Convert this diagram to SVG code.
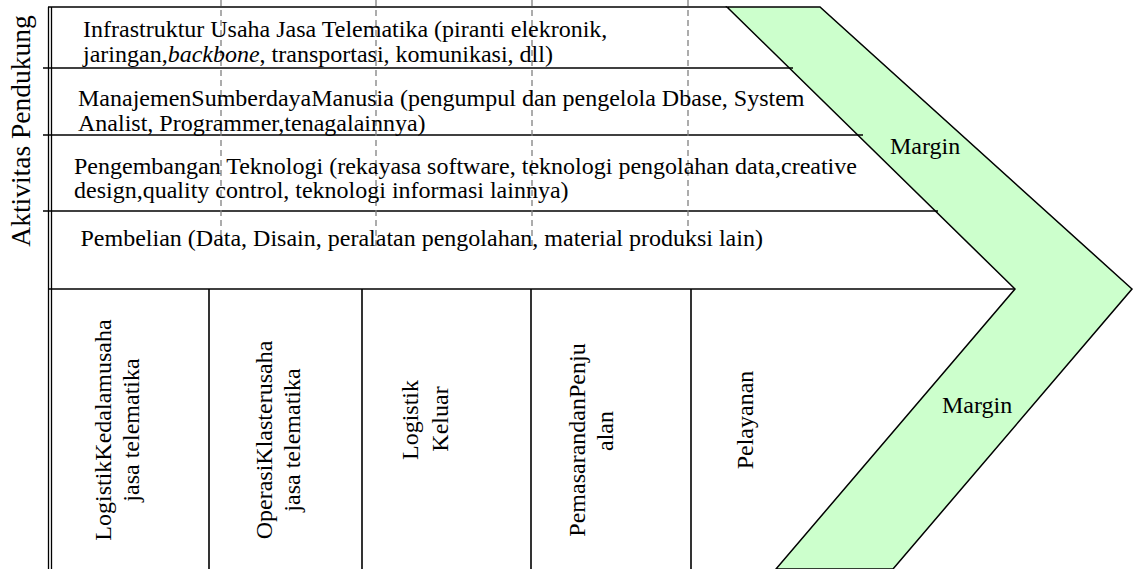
<svg xmlns="http://www.w3.org/2000/svg" width="1134" height="569" viewBox="0 0 1134 569" font-family="'Liberation Serif', 'Times New Roman', Times, serif" font-size="24">
<style>
text{font-family:'Liberation Serif','Times New Roman',Times,serif;font-size:24px;fill:#000}
.ln{stroke:#000;stroke-width:1.6;fill:none}
.dl{stroke:#808080;stroke-width:1.3;stroke-dasharray:6 4;fill:none}
.vt{text-anchor:middle}
</style>
<rect width="1134" height="569" fill="#fff"/>
<g id="margin-chevron">
<polygon points="727,7 820,7 1132,289 893,569 776,569 1015,289" fill="#ccffcc" stroke="#000" stroke-width="1.5" stroke-linejoin="miter"/>
<text x="890" y="154">Margin</text>
<text x="942" y="413">Margin</text>
</g>
<g id="frame">
<line class="ln" x1="48" y1="7" x2="727" y2="7"/>
<line stroke="#000" stroke-width="1.3" x1="48.5" y1="7" x2="48.5" y2="569"/>
<line stroke="#000" stroke-width="1.3" x1="51.5" y1="7" x2="51.5" y2="569"/>
<line class="ln" x1="43" y1="68" x2="793" y2="68"/>
<line class="ln" x1="43" y1="135" x2="863" y2="135"/>
<line class="ln" x1="43" y1="211" x2="938" y2="211"/>
<line class="ln" x1="48" y1="289" x2="1015" y2="289"/>
<line class="ln" x1="209" y1="289" x2="209" y2="569"/>
<line class="ln" x1="362" y1="289" x2="362" y2="569"/>
<line class="ln" x1="531" y1="289" x2="531" y2="569"/>
<line class="ln" x1="691" y1="289" x2="691" y2="569"/>
</g>
<g id="connectors">
<line class="dl" x1="221" y1="0" x2="221" y2="250"/>
<line class="dl" x1="376" y1="0" x2="376" y2="250"/>
<line class="dl" x1="532" y1="0" x2="532" y2="250"/>
<line class="dl" x1="688" y1="0" x2="688" y2="250"/>
</g>
<g id="label-aktivitas">
<text class="vt" style="font-size:27.5px" transform="translate(30,131) rotate(-90)">Aktivitas Pendukung</text>
</g>
<g id="row-infrastruktur">
<text x="83" y="36.5">Infrastruktur Usaha Jasa Telematika (piranti elekronik,</text>
<text x="83" y="61.5">jaringan,<tspan font-style="italic">backbone</tspan>, transportasi, komunikasi, dll)</text>
</g>
<g id="row-sdm">
<text x="78" y="106">ManajemenSumberdayaManusia (pengumpul dan pengelola Dbase, System</text>
<text x="78" y="130.5">Analist, Programmer,tenagalainnya)</text>
</g>
<g id="row-teknologi">
<text x="74" y="173.5">Pengembangan Teknologi (rekayasa software, teknologi pengolahan data,creative</text>
<text x="74" y="197.5">design,quality control, teknologi informasi lainnya)</text>
</g>
<g id="row-pembelian">
<text x="80.5" y="246">Pembelian (Data, Disain, peralatan pengolahan, material produksi lain)</text>
</g>
<g id="col-logistik-masuk">
<text class="vt" transform="translate(111,430) rotate(-90)">LogistikKedalamusaha</text>
<text class="vt" transform="translate(139,430) rotate(-90)">jasa telematika</text>
</g>
<g id="col-operasi">
<text class="vt" transform="translate(272,440) rotate(-90)">OperasiKlasterusaha</text>
<text class="vt" transform="translate(300,440) rotate(-90)">jasa telematika</text>
</g>
<g id="col-logistik-keluar">
<text class="vt" transform="translate(418,420) rotate(-90)">Logistik</text>
<text class="vt" transform="translate(448,419) rotate(-90)">Keluar</text>
</g>
<g id="col-pemasaran">
<text class="vt" transform="translate(585,440) rotate(-90)">PemasarandanPenju</text>
<text class="vt" transform="translate(613,431) rotate(-90)">alan</text>
</g>
<g id="col-pelayanan">
<text class="vt" transform="translate(753,420) rotate(-90)">Pelayanan</text>
</g>
</svg>
